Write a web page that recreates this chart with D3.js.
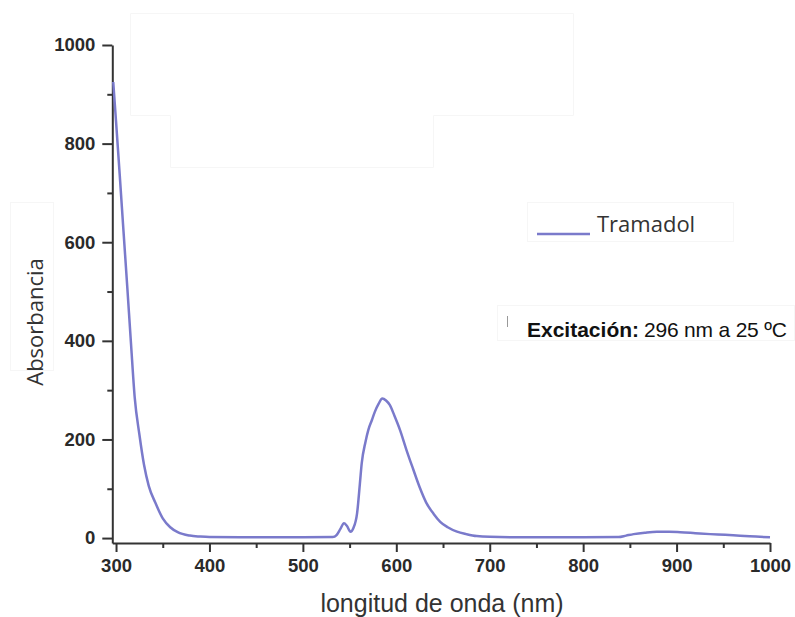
<!DOCTYPE html>
<html>
<head>
<meta charset="utf-8">
<script src="https://cdn.jsdelivr.net/npm/d3@7"></script>
<style>
  body { margin: 0; background: #fff; }
  svg { display: block; }
</style>
</head>
<body>
<svg width="795" height="617"></svg>
<script>
// wavelength (nm) and absorbance
var wavelength = [297, 300, 304, 308, 312, 316, 320, 325, 330, 335, 342, 350, 358, 366, 379, 390, 400, 450, 500, 532,
                  536, 540, 544, 547, 551, 554, 558, 561, 563, 567, 570, 574, 577, 581, 585, 589, 593, 598, 604, 611,
                  618, 625, 632, 640, 647, 655, 665, 675, 686, 700, 750, 800, 838, 846, 854, 866, 879, 892, 904, 920,
                  936, 952, 968, 985, 1000];
var absorbance = [925, 845, 735, 622, 510, 395, 285, 210, 148, 106, 72, 40, 22, 12, 5, 3, 2, 1.5, 1.5, 2,
                  6, 18, 30, 25, 13, 20, 50, 110, 152, 195, 219, 240, 256, 272, 283, 279, 270, 248, 219, 178,
                  140, 103, 72, 49, 33, 22, 13, 8, 4, 2.5, 1.5, 1.5, 2, 5, 8, 11, 13, 13, 12, 10,
                  8, 6.5, 4.6, 3, 1.5];

var xMajor = [300, 400, 500, 600, 700, 800, 900, 1000];
var xMinor = [350, 450, 550, 650, 750, 850, 950];
var yMajor = [0, 200, 400, 600, 800, 1000];
var yMinor = [100, 300, 500, 700, 900];

var seriesName = "Tramadol";
var xTitle = "longitud de onda (nm)";
var yTitle = "Absorbancia";

var svg = d3.select("svg");

var x = d3.scaleLinear().domain([296, 1000]).range([112.3, 770]);
var y = d3.scaleLinear().domain([-10, 1000]).range([543, 45]);

var axisColor = "#333";
var lineColor = "#7a7acb";
var faint = "#f6f6f6";

// faint frames left over from the original figure
svg.append("path")
    .attr("d", "M130.5,13.5 H573.5 V115.5 H433.5 V167.5 H170.5 V115.5 H130.5 Z")
    .attr("fill", "none").attr("stroke", faint);
svg.append("rect").attr("x", 10.5).attr("y", 202.5).attr("width", 43).attr("height", 168)
    .attr("fill", "none").attr("stroke", faint);
svg.append("rect").attr("x", 527.5).attr("y", 202.5).attr("width", 206).attr("height", 39)
    .attr("fill", "none").attr("stroke", faint);
svg.append("rect").attr("x", 497.5).attr("y", 305.5).attr("width", 297).attr("height", 35)
    .attr("fill", "none").attr("stroke", faint);

// x axis
svg.append("g").attr("transform", "translate(0," + y(-10) + ")")
    .call(d3.axisBottom(x).tickValues(xMajor).tickFormat(d3.format("d"))
        .tickSize(9).tickSizeOuter(0).tickPadding(7));
svg.append("g").attr("transform", "translate(0," + y(-10) + ")")
    .call(d3.axisBottom(x).tickValues(xMinor).tickSize(5).tickFormat(""))
    .select(".domain").remove();

// y axis
svg.append("g").attr("transform", "translate(" + x(296) + ",0)")
    .call(d3.axisLeft(y).tickValues(yMajor).tickFormat(d3.format("d"))
        .tickSize(10).tickSizeOuter(0).tickPadding(7));
svg.append("g").attr("transform", "translate(" + x(296) + ",0)")
    .call(d3.axisLeft(y).tickValues(yMinor).tickSize(5).tickFormat(""))
    .select(".domain").remove();

svg.selectAll(".domain").attr("stroke", axisColor).attr("stroke-width", 2);
svg.selectAll(".tick line").attr("stroke", axisColor).attr("stroke-width", 2);
svg.selectAll(".tick text")
    .attr("fill", "#2a2a2a")
    .style("font-family", "'Liberation Sans', Arial, sans-serif")
    .style("font-weight", "bold")
    .style("font-size", "18.5px");

// spectrum
var pts = wavelength.map(function(d, i) { return [d, absorbance[i]]; });
var line = d3.line()
    .x(function(d) { return x(d[0]); })
    .y(function(d) { return y(d[1]); })
    .curve(d3.curveMonotoneX);

svg.append("path")
    .datum(pts)
    .attr("d", line)
    .attr("fill", "none")
    .attr("stroke", lineColor)
    .attr("stroke-width", 2.5)
    .attr("stroke-linejoin", "round");

// axis titles
svg.append("text")
    .attr("x", 442).attr("y", 612)
    .attr("text-anchor", "middle")
    .attr("fill", "#333")
    .style("font-family", "'Liberation Sans', Arial, sans-serif")
    .style("font-size", "25px")
    .text(xTitle);

svg.append("text")
    .attr("transform", "translate(43,322) rotate(-90)")
    .attr("text-anchor", "middle")
    .attr("fill", "#333")
    .style("font-family", "'Open Sans', 'Noto Sans', sans-serif")
    .style("font-size", "22px")
    .text(yTitle);

// legend
svg.append("line")
    .attr("x1", 537).attr("x2", 590).attr("y1", 234).attr("y2", 234)
    .attr("stroke", lineColor).attr("stroke-width", 2.5);
svg.append("text")
    .attr("x", 597).attr("y", 232)
    .attr("fill", "#333")
    .style("font-family", "'Open Sans', 'Noto Sans', sans-serif")
    .style("font-size", "22px")
    .text(seriesName);

// annotation
svg.append("line")
    .attr("x1", 507.5).attr("x2", 507.5).attr("y1", 316).attr("y2", 327)
    .attr("stroke", "#999").attr("stroke-width", 1);
var note = svg.append("text")
    .attr("x", 527).attr("y", 337)
    .attr("fill", "#111")
    .style("font-family", "'Liberation Sans', Arial, sans-serif")
    .style("font-size", "21px");
note.append("tspan").style("font-weight", "bold").text("Excitación:");
note.append("tspan").attr("dx", 5).style("letter-spacing", "-0.2px").text("296 nm a 25 ºC");
</script>
</body>
</html>
